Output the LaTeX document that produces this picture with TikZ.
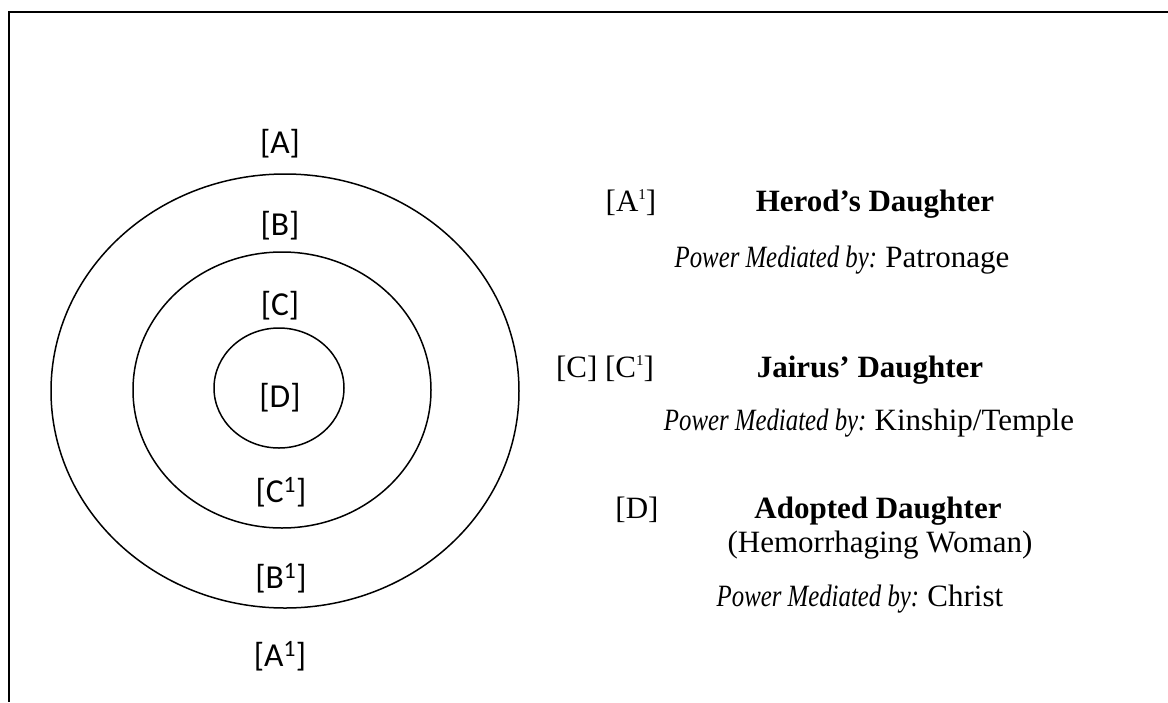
\documentclass[tikz,border=0pt]{standalone}
\usepackage{fontspec}
\setmainfont{Liberation Serif}[ItalicFeatures={FakeStretch=0.8}]
\newfontfamily\ringfont{Carlito}
\usetikzlibrary{shapes.geometric}

% small raised index used in the key
\newcommand\keysup[1]{\raisebox{0.36em}{\fontsize{15}{15}\selectfont #1}}

\tikzset{
  ring/.style={draw, ellipse, line width=1.5pt, inner sep=0pt},
  ringlabel/.style={font=\ringfont\fontsize{33.5}{40}\selectfont, anchor=base, inner sep=0pt},
  keytext/.style={font=\fontsize{31}{37}\selectfont, anchor=base, inner sep=0pt},
}

\begin{document}
\begin{tikzpicture}[x=1pt, y=-1pt]
  \useasboundingbox (0,0) rectangle (1168,702);
  \draw[line width=2.2pt] (1168,12) -- (9,12) -- (9,702);

  % the three rings
  \node(outer) [ring, minimum width=468pt, minimum height=434pt] at (285,391) {};
  \node(middle) [ring, minimum width=298pt, minimum height=276pt] at (282,390) {};
  \node(inner) [ring, minimum width=130pt, minimum height=120pt] at (279,388) {};

  % ring labels, top to bottom
  \node(A) [ringlabel] at (280,153) {[A]};
  \node(B) [ringlabel] at (280,235) {[B]};
  \node(C) [ringlabel] at (280,315) {[C]};
  \node(D) [ringlabel] at (280,407) {[D]};
  \node(C1) [ringlabel] at (281,502) {[C\textsuperscript{1}]};
  \node(B1) [ringlabel] at (281,588) {[B\textsuperscript{1}]};
  \node(A1) [ringlabel] at (280,666) {[A\textsuperscript{1}]};

  % key on the right
  \node(herodtag) [keytext] at (631,211) {[A\keysup{1}]};
  \node(herod) [keytext] at (875,211) {\textbf{Herod’s Daughter}};
  \node(herodpow) [keytext] at (842,267) {{\itshape Power Mediated by: }Patronage};
  \node(jairustag) [keytext] at (605,377) {[C] [C\keysup{1}]};
  \node(jairus) [keytext] at (870,377) {\textbf{Jairus’ Daughter}};
  \node(jairuspow) [keytext] at (869,430) {{\itshape Power Mediated by: }Kinship/Temple};
  \node(adoptag) [keytext] at (637,518) {[D]};
  \node(adopted) [keytext] at (878,518) {\textbf{Adopted Daughter}};
  \node(hemo) [keytext] at (880,552) {(Hemorrhaging Woman)};
  \node(adoptpow) [keytext] at (860,606) {{\itshape Power Mediated by: }Christ};
\end{tikzpicture}
\end{document}
